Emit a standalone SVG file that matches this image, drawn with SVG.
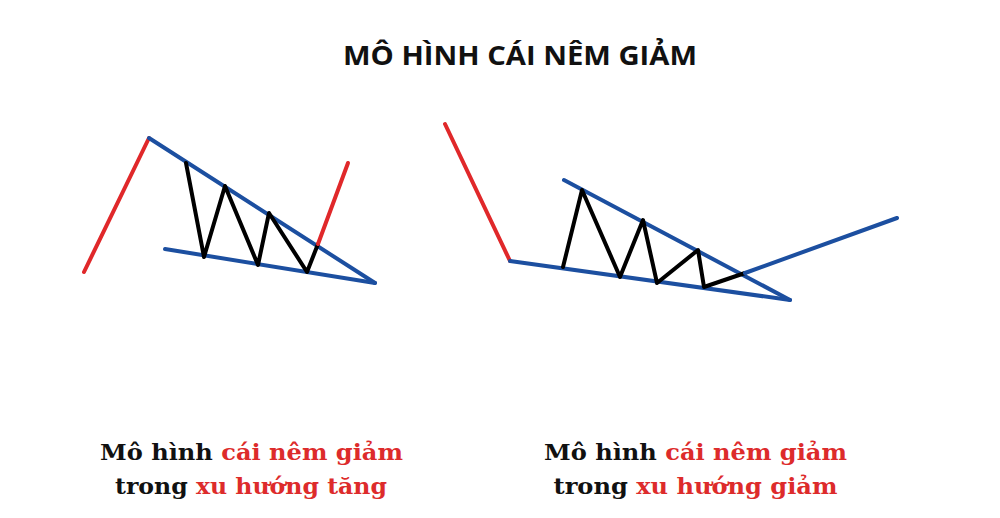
<svg xmlns="http://www.w3.org/2000/svg" width="1000" height="518" viewBox="0 0 1000 518">
<style>
.red{stroke:#e0282a;stroke-width:4;fill:none;stroke-linecap:round;stroke-linejoin:round}
.blue{stroke:#1c4fa0;stroke-width:4;fill:none;stroke-linecap:round;stroke-linejoin:round}
.blk{stroke:#000;stroke-width:4;fill:none;stroke-linecap:round;stroke-linejoin:round}
.title{font-family:"Open Sans","Noto Sans",sans-serif;font-weight:bold;font-size:26px;fill:#111}
.cap{font-family:"DejaVu Serif",serif;font-weight:bold;font-size:23px;fill:#111}
.r{fill:#dd2b2b}
</style>
<rect width="1000" height="518" fill="#fff"/>
<text id="title" class="title" x="520" y="65" text-anchor="middle" textLength="354" lengthAdjust="spacingAndGlyphs">MÔ HÌNH CÁI NÊM GIẢM</text>
<g id="left-chart">
<polyline class="red" points="84,272 149,138"/>
<polyline class="blue" points="149,138 375,283"/>
<polyline class="blue" points="165,249 375,283"/>
<polyline class="blk" points="186,163 204,257 225,186 258,265 269,213 307,272 318,244"/>
<polyline class="red" points="318,244 348,163"/>
</g>
<g id="right-chart">
<polyline class="red" points="445,124 510,261"/>
<polyline class="blue" points="510,261 790,300"/>
<polyline class="blue" points="564,180 790,300"/>
<polyline class="blk" points="563,267 582,190 620,277 643,220 657,283 698,250 704,287 745,273"/>
<polyline class="blue" points="745,273 897,218"/>
</g>
<g id="left-caption">
<text class="cap" x="251.5" y="460" text-anchor="middle" textLength="303" lengthAdjust="spacingAndGlyphs">Mô hình <tspan class="r">cái nêm giảm</tspan></text>
<text class="cap" x="251" y="494" text-anchor="middle" textLength="272" lengthAdjust="spacingAndGlyphs">trong <tspan class="r">xu hướng tăng</tspan></text>
</g>
<g id="right-caption">
<text class="cap" x="695.5" y="460" text-anchor="middle" textLength="303" lengthAdjust="spacingAndGlyphs">Mô hình <tspan class="r">cái nêm giảm</tspan></text>
<text class="cap" x="695.5" y="494" text-anchor="middle" textLength="284" lengthAdjust="spacingAndGlyphs">trong <tspan class="r">xu hướng giảm</tspan></text>
</g>
</svg>
